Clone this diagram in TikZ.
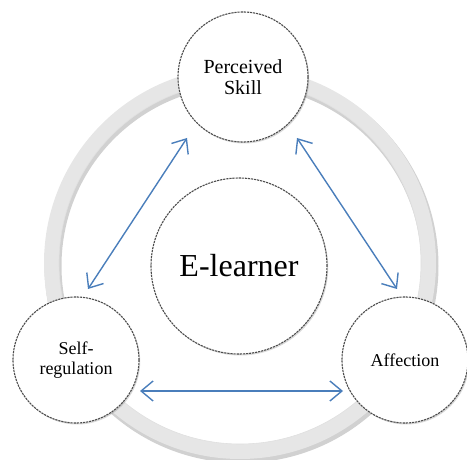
\documentclass[tikz,border=0pt]{standalone}
\usepackage{fontspec}
\setmainfont{Liberation Serif}
\usetikzlibrary{arrows.meta,shadows}
\definecolor{arrowblue}{HTML}{4A7EBB}
\definecolor{ringgray}{HTML}{E6E6E6}
\tikzset{
  bubble/.style={circle, draw=black!70, line width=1.1pt, dash pattern=on 2.2pt off 0.9pt,
    fill=white, inner sep=0pt, align=center,
    drop shadow={opacity=0.3, shadow xshift=1.2pt, shadow yshift=-1.5pt}},
  link/.style={draw=arrowblue, line width=1.4pt,
    {Straight Barb[length=12pt,width=20pt,line width=1.4pt]}-{Straight Barb[length=12pt,width=20pt,line width=1.4pt]}},
}
\begin{document}
\begin{tikzpicture}[x=1pt,y=-1pt]
\useasboundingbox (0,0) rectangle (467,460);
% ring
\coordinate (rc) at (240,263);
\fill[black!18, even odd rule] ([shift={(1.5,3)}]rc) circle (197) ([shift={(1.5,3)}]rc) circle (180);
\fill[ringgray, even odd rule] (rc) circle (196) (rc) circle (181);
\draw[black!12, line width=0.6pt] (rc) circle (181);
% circles
\node[bubble, minimum size=176pt, font=\fontsize{32}{36}\selectfont] (el) at (239,266) {E-learner};
\node[bubble, minimum size=130pt, font=\fontsize{20}{21}\selectfont] (ps) at (243,77) {Perceived\\Skill};
\node[bubble, minimum size=126pt, font=\fontsize{18}{20}\selectfont] (sr) at (76,360) {Self-\\regulation};
\node[bubble, minimum size=126pt, font=\fontsize{18}{20}\selectfont] (af) at (405,360) {Affection};
% arrow ends
\coordinate (a1) at (187,138);
\coordinate (a2) at (88,289);
\coordinate (b1) at (297,138);
\coordinate (b2) at (397,289);
\coordinate (c1) at (140,391);
\coordinate (c2) at (343,391);
\draw[link] (a1) -- (a2);
\draw[link] (b1) -- (b2);
\draw[link] (c1) -- (c2);
\end{tikzpicture}
\end{document}
